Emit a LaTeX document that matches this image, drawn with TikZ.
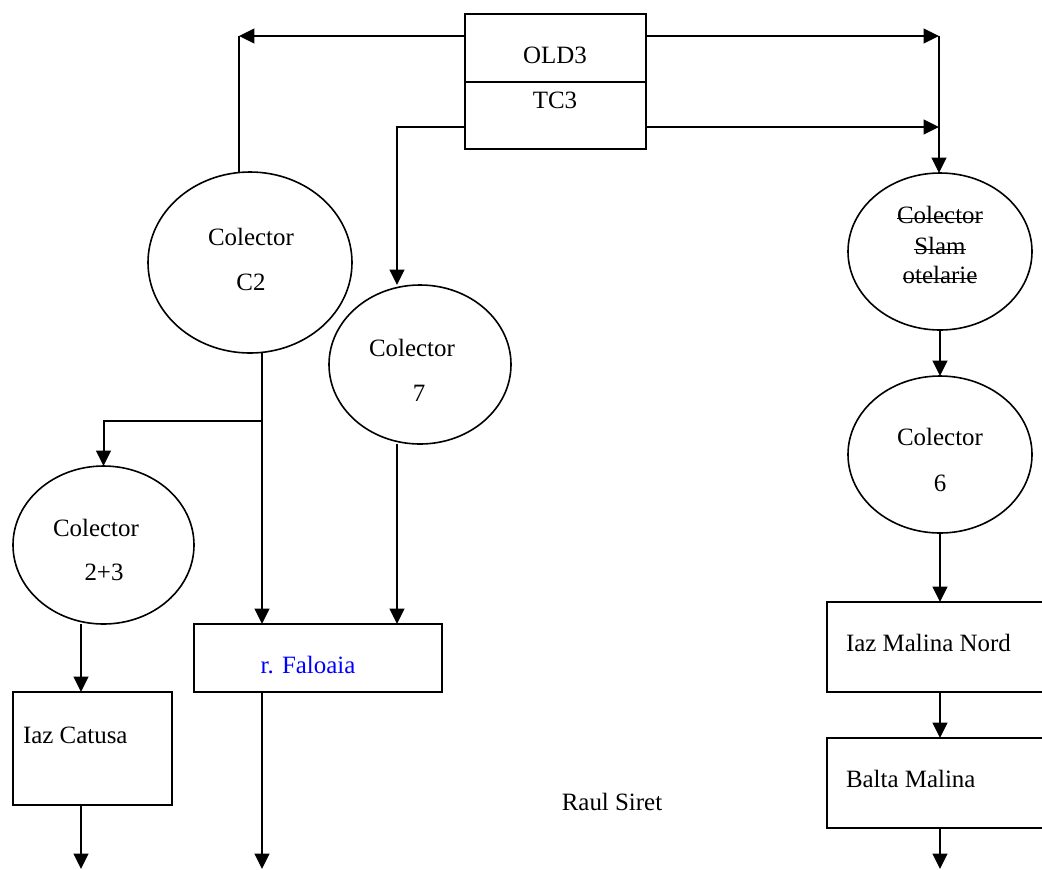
\documentclass[tikz,border=0pt]{standalone}
\usepackage{fontspec}
\setmainfont{Liberation Serif}
\usetikzlibrary{arrows.meta,shapes.geometric}
\begin{document}
\begin{tikzpicture}[x=0.75pt,y=-0.75pt,
  font=\fontsize{18.7}{22.5}\selectfont,
  every node/.style={inner sep=0pt, outer sep=0pt},
  box/.style={draw, line width=1.5pt, rectangle},
  oval/.style={draw, line width=1.2pt, ellipse},
  ln/.style={line width=1.5pt},
  arr/.style={line width=1.5pt, -{Triangle[length=11.5pt,width=11pt]}},
  lbl/.style={anchor=center},
  struck/.style={anchor=base},
  strikeline/.style={line width=1.2pt},
]
\useasboundingbox (0,0) rectangle (1042,869);
\clip (0,0) rectangle (1042,869);

% central source box
\node[box, minimum width=135.75pt, minimum height=101.25pt] (old) at (555.5,81.5) {};
\draw[ln] (old.west) -- (old.east);
\node[lbl] (told) at (555,55) {OLD3};
\node[lbl] (ttc) at (555,100) {TC3};

% collectors
\node[oval, minimum width=153pt, minimum height=135.75pt] (c2) at (250,262.5) {};
\node[lbl] (c2a) at (251,237) {Colector};
\node[lbl] (c2b) at (251,282) {C2};

\node[oval, minimum width=136.5pt, minimum height=119.25pt] (c7) at (420,364.5) {};
\node[lbl] (c7a) at (412,348) {Colector};
\node[lbl] (c7b) at (419,393) {7};

\node[oval, minimum width=138pt, minimum height=117.75pt] (slam) at (940,251.5) {};
\node[struck] (s1) at (940,223) {Colector};
\node[struck] (s2) at (940,254) {Slam};
\node[struck] (s3) at (940,283) {otelarie};
\foreach \s in {s1,s2,s3}
  \draw[strikeline] ([yshift=3.5pt]\s.base west) -- ([yshift=3.5pt]\s.base east);

\node[oval, minimum width=138pt, minimum height=117.75pt] (c6) at (940,454.5) {};
\node[lbl] (c6a) at (940,437) {Colector};
\node[lbl] (c6b) at (940,483) {6};

\node[oval, minimum width=135.75pt, minimum height=118.5pt] (c23) at (103.5,545) {};
\node[lbl] (c23a) at (96,528) {Colector};
\node[lbl] (c23b) at (104,572) {2+3};

% receivers
\node[box, minimum width=186pt, minimum height=51pt] (fal) at (318,658) {};
\node[lbl, text=blue] (falt) at (308,665) {r. Faloaia};

\node[box, minimum width=119.25pt, minimum height=84.75pt] (cat) at (92.5,748.5) {};
\node[anchor=west] (catt) at (23,735) {Iaz Catusa};

\node[box, minimum width=182.25pt, minimum height=67.5pt] (nord) at (948.5,647) {};
\node[anchor=west] (nordt) at (846,643) {Iaz Malina Nord};

\node[box, minimum width=182.25pt, minimum height=67.5pt] (balta) at (948.5,783) {};
\node[anchor=west] (baltat) at (846,779) {Balta Malina};

\node[lbl] (siret) at (612,802) {Raul Siret};

% bend and end points
\coordinate (tl) at (239,36);
\coordinate (tr) at (939,36);
\coordinate (tr2) at (939,127);
\coordinate (bl) at (397,127);
\coordinate (br) at (262,421);
\coordinate (catx) at (81,869);
\coordinate (falx) at (262,869);
\coordinate (baltax) at (940,869);

% connectors
\draw[arr] (old.west |- tl) -- (tl);
\draw[ln] (tl) -- (c2.north -| tl);
\draw[arr] (old.east |- tr) -- (tr);
\draw[arr] (tr) -- (slam.north -| tr);
\draw[arr] (old.east |- tr2) -- (tr2);
\draw[arr] (old.west |- bl) -- (bl) -- (c7.north -| bl);

\draw[arr] (slam.south) -- (c6.north);
\draw[arr] (c6.south) -- (nord.north -| c6.south);
\draw[arr] (nord.south -| c6.south) -- (balta.north -| c6.south);
\draw[arr] (balta.south -| baltax) -- (baltax);

\draw[arr] (c2.south -| br) -- (fal.north -| br);
\draw[arr] (br) -- (br -| c23.north) -- (c23.north);
\draw[arr] (c7.south -| bl) -- (fal.north -| bl);
\draw[arr] (c23.south -| catx) -- (cat.north -| catx);
\draw[arr] (cat.south -| catx) -- (catx);
\draw[arr] (fal.south -| falx) -- (falx);
\end{tikzpicture}
\end{document}
